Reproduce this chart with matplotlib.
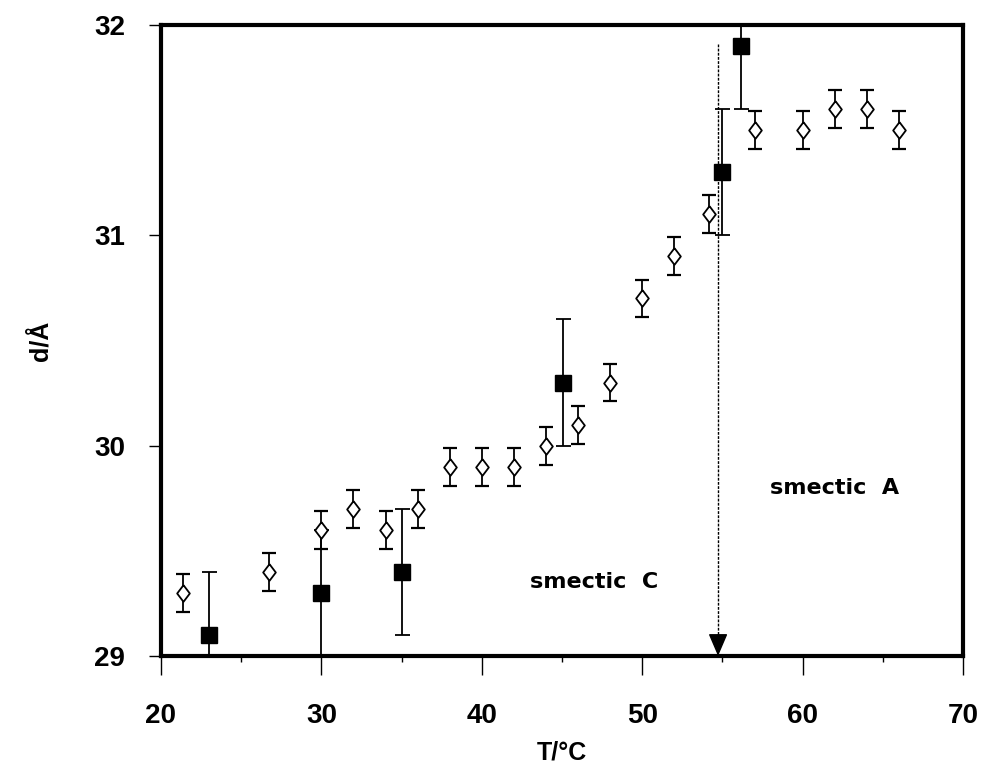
import numpy as np
from matplotlib import pyplot as plt

# open diamonds
t_open = [21.35, 26.75, 30.0, 32.0, 34.0, 36.0, 38.0, 40.0, 42.0, 44.0, 46.0, 48.0,
          50.0, 52.0, 54.15, 57.05, 60.0, 62.0, 64.0, 66.0]
d_open = [29.30, 29.40, 29.60, 29.70, 29.60, 29.70, 29.90, 29.90, 29.90, 30.00, 30.10, 30.30,
          30.70, 30.90, 31.10, 31.50, 31.50, 31.60, 31.60, 31.50]
err_open = 0.09

# filled squares
t_fill = [23.0, 30.0, 35.0, 45.05, 55.0, 56.15]
d_fill = [29.10, 29.30, 29.40, 30.30, 31.30, 31.90]
err_fill = 0.3

t_transition = 54.73
line_top = 31.91

plt.rcParams['font.family'] = ['Liberation Sans', 'DejaVu Sans']
plt.rcParams['font.weight'] = 'bold'

# diamond a bit wider than matplotlib's thin diamond
diamond = [(0, 1), (0.76, 0), (0, -1), (-0.76, 0), (0, 1)]

fig = plt.figure(figsize=(9.81, 7.68), dpi=100)
ax = fig.add_axes([161 / 981, 1 - 656 / 768, 802 / 981, 631 / 768])

ax.errorbar(t_fill, d_fill, yerr=err_fill, fmt='s', color='black', ms=12,
            ecolor='black', elinewidth=1.3, capsize=5.4, capthick=1.3, zorder=3)
ax.errorbar(t_open, d_open, yerr=err_open, fmt='none', ecolor='black',
            elinewidth=1.3, capsize=4.7, capthick=1.6, zorder=4)
ax.plot(t_open, d_open, linestyle='none', marker=diamond, ms=12, mfc='white',
        mec='black', mew=1.3, zorder=5)

ax.plot([t_transition, t_transition], [line_top, 29.07], color='black', lw=1,
        linestyle=(0, (2, 1)), zorder=2)
ax.annotate('', xy=(t_transition, 29.0), xytext=(t_transition, 29.1),
            arrowprops=dict(arrowstyle='-|>,head_length=1.4,head_width=0.6',
                            color='black', lw=1, shrinkA=0, shrinkB=0))

ax.text(47.0, 29.35, 'smectic  C', fontsize=16, fontweight='bold', family='DejaVu Sans',
        ha='center', va='center')
ax.text(62.0, 29.80, 'smectic  A', fontsize=16, fontweight='bold', family='DejaVu Sans',
        ha='center', va='center')

ax.set_xlim(20, 70)
ax.set_ylim(29, 32)
ax.set_xticks([20, 30, 40, 50, 60, 70])
ax.set_xticks([25, 35, 45, 55, 65], minor=True)
ax.set_yticks([29, 30, 31, 32])

for s in ax.spines.values():
    s.set_linewidth(3)

ax.tick_params(axis='x', which='major', direction='out', length=14, width=1, pad=20, labelsize=20)
ax.tick_params(axis='x', which='minor', direction='out', length=4, width=1)
ax.tick_params(axis='y', which='major', direction='out', length=9, width=1, pad=17, labelsize=20)

ax.set_xlabel('T/°C', fontsize=18, fontweight='bold', labelpad=8)
ax.set_ylabel('d/Å', fontsize=18, fontweight='bold', labelpad=30)

fig.savefig('out.png', dpi=100)
